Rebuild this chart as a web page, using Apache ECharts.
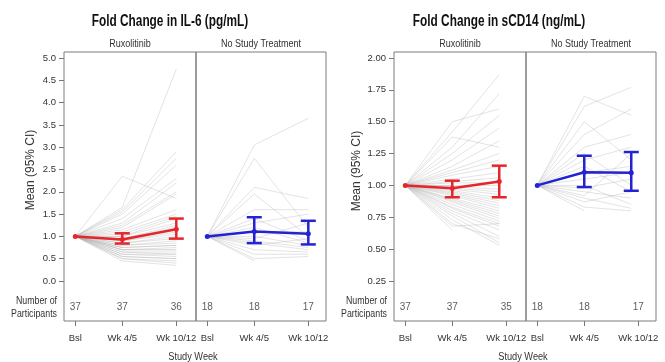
<!DOCTYPE html>
<html>
<head>
<meta charset="utf-8">
<script src="https://cdn.jsdelivr.net/npm/echarts@6/dist/echarts.min.js"></script>
<style>
  html, body { margin: 0; padding: 0; background: #fff; }
  #chart { width: 665px; height: 362px; }
</style>
</head>
<body>
<div id="chart"></div>
<script>
// ---- visits and arms ----
const visits = ['Bsl', 'Wk 4/5', 'Wk 10/12'];
const visitTick = [0, 1, 2.15];      // axis position of each visit label
const il6Pos = [0, 1, 2.15];         // plotted time of each visit, IL-6
const cd14Pos = [0, 1, 2.0];         // plotted time of each visit, sCD14
const arms = ['Ruxolitinib', 'No Study Treatment'];

// ---- IL-6: individual fold change from baseline (baseline = 1) ----
const il6RuxWk4 = [2.35, 1.65, 1.6, 1.55, 1.5, 1.4, 1.3, 1.25, 1.2, 1.15, 1.1, 1.05, 1.0, 1.0, 0.95, 0.95, 0.9, 0.9, 0.85,
  0.85, 0.8, 0.8, 0.75, 0.75, 0.7, 0.7, 0.7, 0.65, 0.65, 0.6, 0.6, 0.55, 0.55, 0.5, 0.5, 0.45, 0.75];
const il6RuxWk10 = [1.85, 4.75, 2.9, 2.75, 2.6, 2.3, 2.2, 2.0, 1.95, 1.6, 1.5, 1.45, 1.4, 1.3, 1.25, 1.2, 1.1, 1.05, 1.0,
  0.95, 0.9, 0.85, 0.8, 0.8, 0.75, 0.7, 0.7, 0.65, 0.6, 0.6, 0.55, 0.5, 0.5, 0.45, 0.4, 0.35, null];
const il6NstWk4 = [3.05, 2.75, 2.1, 1.95, 1.6, 1.4, 1.3, 1.2, 1.1, 1.0, 0.95, 0.9, 0.85, 0.8, 0.7, 0.6, 0.5, 0.45];
const il6NstWk10 = [3.65, 1.2, 1.85, 1.0, 1.6, 0.9, 1.5, 0.85, 1.1, 0.8, 1.3, 0.75, 0.7, 0.95, 0.65, 0.6, 0.55, null];

// ---- sCD14: individual fold change from baseline ----
const cd14RuxWk4 = [1.5, 1.42, 1.38, 1.3, 1.25, 1.2, 1.15, 1.12, 1.1, 1.08, 1.05, 1.03, 1.02, 1.0, 0.99, 0.98, 0.97, 0.96,
  0.95, 0.94, 0.93, 0.92, 0.9, 0.89, 0.88, 0.87, 0.85, 0.83, 0.82, 0.8, 0.78, 0.76, 0.73, 0.7, 0.68, 0.65, 1.0];
const cd14RuxWk10 = [1.6, 1.87, 1.3, 1.72, 1.55, 1.45, 1.35, 1.25, 1.2, 1.15, 1.1, 1.06, 1.02, 1.0, 0.97, 0.95, 0.93, 0.9,
  0.88, 0.86, 0.84, 0.82, 0.8, 0.78, 0.76, 0.74, 0.72, 0.7, 0.68, 0.65, 0.6, 0.55, 0.53, 0.58, 0.7, null, null];
const cd14NstWk4 = [1.7, 1.62, 1.5, 1.4, 1.3, 1.25, 1.2, 1.15, 1.1, 1.05, 1.0, 0.98, 0.95, 0.92, 0.9, 0.87, 0.83, 0.8];
const cd14NstWk10 = [1.55, 1.77, 1.2, 1.6, 1.4, 1.0, 1.3, 0.95, 1.15, 1.1, 0.85, 1.05, 0.9, 1.25, 0.82, 0.95, 0.8, null];

// ---- group means with 95% CI ----
const il6RuxMean = [1.0, 0.93, 1.16];
const il6RuxLo   = [1.0, 0.84, 0.95];
const il6RuxHi   = [1.0, 1.07, 1.40];
const il6NstMean = [1.0, 1.11, 1.06];
const il6NstLo   = [1.0, 0.85, 0.82];
const il6NstHi   = [1.0, 1.43, 1.35];
const cd14RuxMean = [1.0, 0.977, 1.03];
const cd14RuxLo   = [1.0, 0.907, 0.907];
const cd14RuxHi   = [1.0, 1.037, 1.155];
const cd14NstMean = [1.0, 1.103, 1.10];
const cd14NstLo   = [1.0, 0.987, 0.958];
const cd14NstHi   = [1.0, 1.233, 1.262];

// ---- number of participants per visit ----
const il6RuxN  = [37, 37, 36];
const il6NstN  = [18, 18, 17];
const cd14RuxN = [37, 37, 35];
const cd14NstN = [18, 18, 17];

// ---- y tick values ----
const il6Ticks  = [0, 0.5, 1, 1.5, 2, 2.5, 3, 3.5, 4, 4.5, 5];
const cd14Ticks = [0.25, 0.5, 0.75, 1, 1.25, 1.5, 1.75, 2];

const FONT = "'Liberation Sans', Arial, sans-serif";
const RED = '#e5262c';
const BLUE = '#2323d2';
const TXT = '#333';

const panels = [
  { left: 64,  width: 132, pos: il6Pos, wk4: il6RuxWk4, wk10: il6RuxWk10, mean: il6RuxMean, lo: il6RuxLo, hi: il6RuxHi,
    n: il6RuxN, color: RED, ymin: -0.897, ymax: 5.135, ticks: il6Ticks, dec: 1, nY: -0.583, yLabels: true },
  { left: 196, width: 130, pos: il6Pos, wk4: il6NstWk4, wk10: il6NstWk10, mean: il6NstMean, lo: il6NstLo, hi: il6NstHi,
    n: il6NstN, color: BLUE, ymin: -0.897, ymax: 5.135, ticks: il6Ticks, dec: 1, nY: -0.583, yLabels: false },
  { left: 394, width: 132, pos: cd14Pos, wk4: cd14RuxWk4, wk10: cd14RuxWk10, mean: cd14RuxMean, lo: cd14RuxLo, hi: cd14RuxHi,
    n: cd14RuxN, color: RED, ymin: -0.064, ymax: 2.047, ticks: cd14Ticks, dec: 2, nY: 0.046, yLabels: true },
  { left: 526, width: 130, pos: cd14Pos, wk4: cd14NstWk4, wk10: cd14NstWk10, mean: cd14NstMean, lo: cd14NstLo, hi: cd14NstHi,
    n: cd14NstN, color: BLUE, ymin: -0.064, ymax: 2.047, ticks: cd14Ticks, dec: 2, nY: 0.046, yLabels: false }
];

const grids = [], xAxes = [], yAxes = [], series = [];

panels.forEach((p, i) => {
  grids.push({ left: p.left, top: 52, width: p.width, height: 269, show: true,
    borderColor: '#7d7d7d', borderWidth: 1, backgroundColor: 'transparent' });

  xAxes.push({
    type: 'value', gridIndex: i, position: 'bottom', min: -0.24, max: 2.15 + (p.width - 11.3 - 101) / 47,
    axisLine: { show: false, onZero: false },
    splitLine: { show: false },
    axisTick: { show: true, customValues: visitTick, length: 5, lineStyle: { color: '#777' } },
    axisLabel: {
      show: true, customValues: visitTick, margin: 12, color: TXT, fontSize: 9.5, fontFamily: FONT,
      formatter: v => { const k = visitTick.indexOf(v); return k >= 0 ? visits[k] : ''; }
    }
  });

  yAxes.push({
    type: 'value', gridIndex: i, position: 'left', min: p.ymin, max: p.ymax,
    axisLine: { show: false, onZero: false },
    splitLine: { show: false },
    axisTick: { show: p.yLabels, customValues: p.ticks, length: 5, lineStyle: { color: '#777' } },
    axisLabel: { show: p.yLabels, customValues: p.ticks, margin: 8, color: TXT, fontSize: 9.5, fontFamily: FONT,
      formatter: v => v.toFixed(p.dec) }
  });

  // individual participant trajectories
  p.wk4.forEach((v4, k) => {
    const pts = [[p.pos[0], 1.0], [p.pos[1], v4]];
    if (p.wk10[k] !== null) pts.push([p.pos[2], p.wk10[k]]);
    series.push({
      type: 'line', xAxisIndex: i, yAxisIndex: i, data: pts, symbol: 'none', silent: true, z: 1,
      lineStyle: { color: 'rgba(170,170,170,0.33)', width: 1 }, animation: false
    });
  });

  // mean trajectory
  series.push({
    type: 'line', xAxisIndex: i, yAxisIndex: i, z: 5, animation: false,
    data: p.mean.map((m, k) => [p.pos[k], m]),
    symbol: 'circle', symbolSize: 5,
    lineStyle: { color: p.color, width: 2.5 }, itemStyle: { color: p.color }
  });

  // 95% CI error bars
  series.push({
    type: 'custom', xAxisIndex: i, yAxisIndex: i, z: 6, animation: false,
    data: [1, 2].map(k => [p.pos[k], p.lo[k], p.hi[k]]),
    renderItem: (params, api) => {
      const x = api.value(0);
      const a = api.coord([x, api.value(1)]);
      const b = api.coord([x, api.value(2)]);
      const w = 7.5;
      const st = { stroke: p.color, lineWidth: 2.5 };
      return { type: 'group', children: [
        { type: 'line', shape: { x1: a[0], y1: a[1], x2: b[0], y2: b[1] }, style: st },
        { type: 'line', shape: { x1: a[0] - w, y1: a[1], x2: a[0] + w, y2: a[1] }, style: st },
        { type: 'line', shape: { x1: b[0] - w, y1: b[1], x2: b[0] + w, y2: b[1] }, style: st }
      ] };
    }
  });

  // participant counts row
  series.push({
    type: 'scatter', xAxisIndex: i, yAxisIndex: i, symbolSize: 0, silent: true, animation: false,
    data: p.n.map((c, k) => [visitTick[k], p.nY, c]),
    label: { show: true, position: 'inside', color: TXT, fontSize: 10, fontFamily: FONT,
      formatter: q => String(q.value[2]) }
  });
});

// text element helper: centred by default, optional horizontal condensing
function txt(x, y, s, size, opts) {
  opts = opts || {};
  return {
    type: 'text', x, y, silent: true,
    rotation: opts.rotation || 0,
    scaleX: opts.sx || 1,
    style: {
      text: s, fill: opts.fill || TXT,
      font: `${opts.weight || 'normal'} ${size}px ${FONT}`,
      textAlign: opts.align || 'center', textVerticalAlign: 'middle'
    }
  };
}

const graphic = [
  txt(170, 22, 'Fold Change in IL-6 (pg/mL)', 16, { weight: 'bold', fill: '#111', sx: 0.74 }),
  txt(499, 22, 'Fold Change in sCD14 (ng/mL)', 16, { weight: 'bold', fill: '#111', sx: 0.74 }),
  txt(130, 44, arms[0], 10, { sx: 0.9 }),
  txt(261, 44, arms[1], 10, { sx: 0.9 }),
  txt(460, 44, arms[0], 10, { sx: 0.9 }),
  txt(591, 44, arms[1], 10, { sx: 0.9 }),
  txt(31, 170, 'Mean (95% CI)', 12, { rotation: Math.PI / 2 }),
  txt(357, 171, 'Mean (95% CI)', 12, { rotation: Math.PI / 2 }),
  txt(57, 301, 'Number of', 10, { align: 'right', sx: 0.88 }),
  txt(57, 314, 'Participants', 10, { align: 'right', sx: 0.88 }),
  txt(387, 301, 'Number of', 10, { align: 'right', sx: 0.88 }),
  txt(387, 314, 'Participants', 10, { align: 'right', sx: 0.88 }),
  txt(193, 357, 'Study Week', 10, { sx: 0.92 }),
  txt(523, 357, 'Study Week', 10, { sx: 0.92 })
];

const chart = echarts.init(document.getElementById('chart'), null, { renderer: 'canvas' });
chart.setOption({
  backgroundColor: '#fff',
  animation: false,
  grid: grids,
  xAxis: xAxes,
  yAxis: yAxes,
  series,
  graphic
});
</script>
</body>
</html>
